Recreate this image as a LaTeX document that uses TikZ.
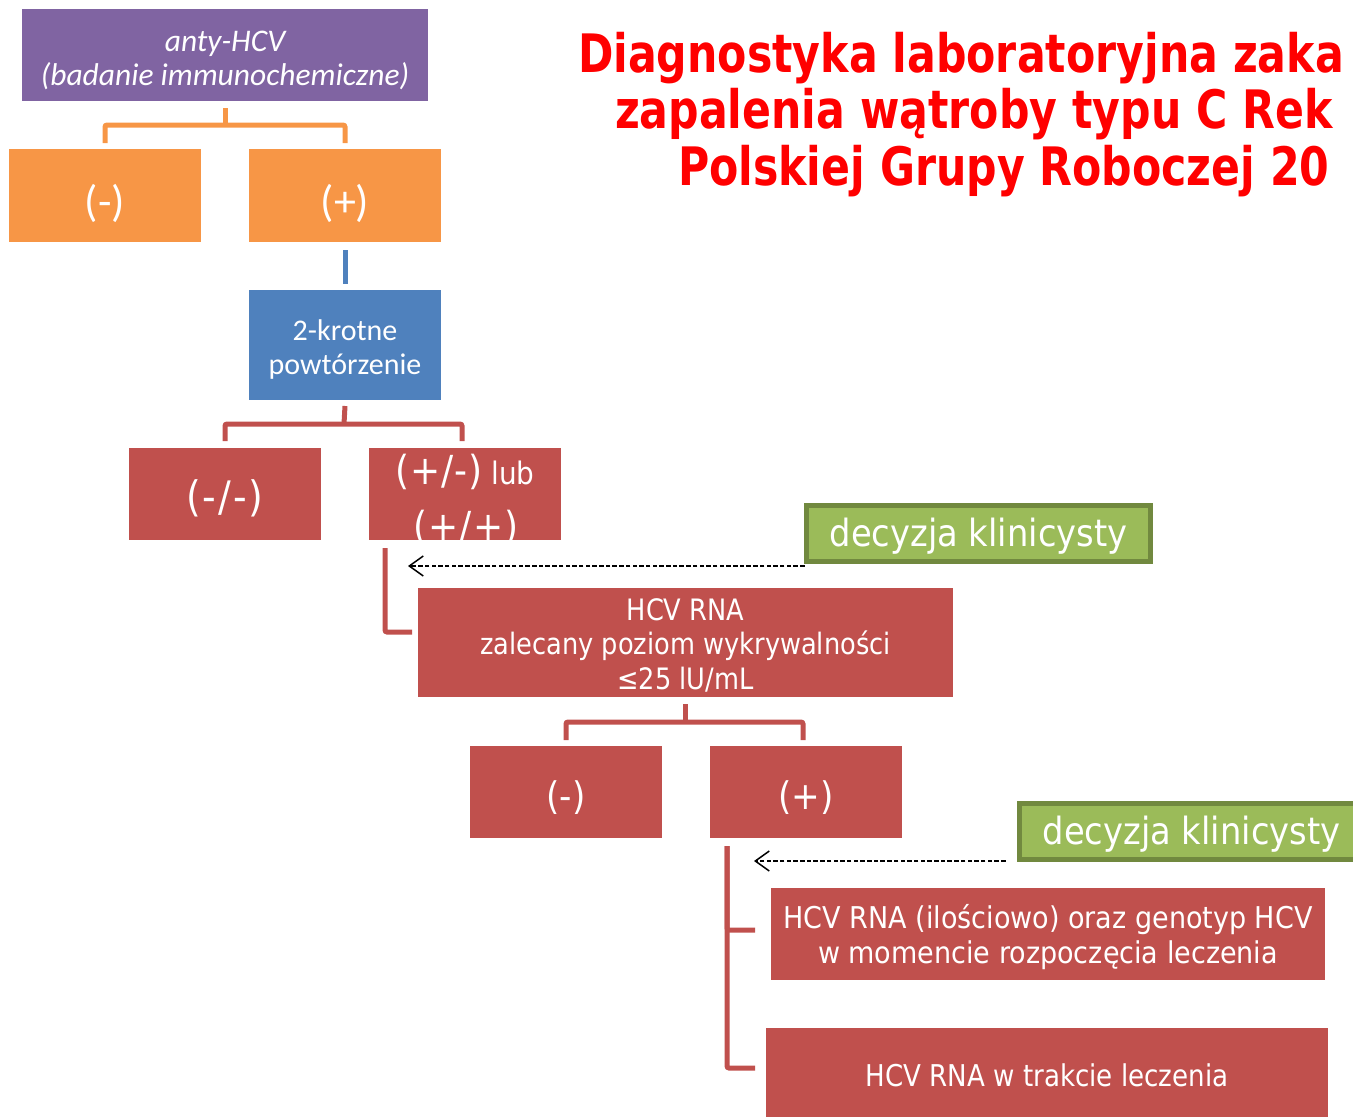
\documentclass[tikz,border=0pt]{standalone}
\usepackage{fontspec}
\setmainfont{Carlito}
\newfontfamily\tah[FakeStretch=0.9]{DejaVu Sans}
\newfontfamily\tahn[FakeStretch=0.87]{DejaVu Sans}
\newfontfamily\tahT[FakeStretch=0.805]{DejaVu Sans}
\usetikzlibrary{arrows.meta,calc}
\definecolor{cpur}{HTML}{8064A2}
\definecolor{cora}{HTML}{F79646}
\definecolor{cblu}{HTML}{4F81BD}
\definecolor{cred}{HTML}{C0504D}
\definecolor{cgrn}{HTML}{9BBB59}
\definecolor{cgrnb}{HTML}{71893F}
\definecolor{ctitle}{HTML}{FF0000}
\begin{document}
\begin{tikzpicture}[x=1pt,y=-1pt,
  box/.style={rectangle, inner sep=0pt, outer sep=0pt},
  pbox/.style={box, fill=cpur},
  obox/.style={box, fill=cora, minimum width=192pt, minimum height=93pt},
  bbox/.style={box, fill=cblu},
  rbox/.style={box, fill=cred},
  gbox/.style={box, fill=cgrn, draw=cgrnb, line width=5pt, minimum width=344pt, minimum height=56pt},
  wt/.style={inner sep=0pt, outer sep=0pt, text=white, align=center},
  conn/.style={line width=5pt, rounded corners=2pt},
  oconn/.style={conn, draw=cora},
  bconn/.style={conn, draw=cblu},
  rconn/.style={conn, draw=cred},
  darrow/.style={draw=black, line width=1.5pt, dash pattern=on 4.5pt off 2.2pt, -{Straight Barb[length=14pt,width=20pt,line width=1.5pt]}},
  ttl/.style={inner sep=0pt, outer sep=0pt, anchor=base west, text=ctitle, font=\tahT\bfseries\fontsize{53}{57}\selectfont}
]
\useasboundingbox (0,0) rectangle (1353,1117);
\clip (0,0) rectangle (1353,1117);

% title
\node[ttl] (t1) at (578,72) {Diagnostyka laboratoryjna zaka};
\node[ttl] (t2) at (615,128) {zapalenia wątroby typu C Rek};
\node[ttl] (t3) at (678,185) {Polskiej Grupy Roboczej 20};

% level 1
\node[pbox, minimum width=406pt, minimum height=92pt] (pur) at (225,55) {};
\node[wt, font=\itshape\fontsize{31.5}{34}\selectfont] (purt) at ([yshift=-5pt]pur.center) {anty-HCV\\(badanie immunochemiczne)};
\node[obox] (om) at (105,195.5) {};
\node[obox] (op) at (345,195.5) {};
\node[wt, font=\fontsize{44}{44}\selectfont] (omt) at ([yshift=-8pt]om.center) {(-)};
\node[wt, font=\fontsize{44}{44}\selectfont] (opt) at ([yshift=-8pt]op.center) {(+)};
\draw[oconn] ([yshift=6pt]om.north) |- (225,125) -| ([yshift=6pt]op.north);
\draw[oconn] (225,125) -- ([yshift=-7pt]pur.south);

% blue
\node[bbox, minimum width=192pt, minimum height=110pt] (blu) at (345,345) {};
\node[wt, font=\fontsize{30}{34}\selectfont] (blut) at ([yshift=-4pt]blu.center) {2-krotne\\powtórzenie};
\draw[bconn] ([yshift=-8pt]op.south) -- ([yshift=6pt]blu.north);

% level 3
\node[rbox, minimum width=192pt, minimum height=92pt] (rmm) at (225,494) {};
\node[wt, font=\tah\fontsize{42}{42}\selectfont] (rmmt) at ([yshift=-4pt]rmm.center) {(\kern2pt-\kern2pt/\kern2pt-\kern2pt)};
\node[rbox, minimum width=192pt, minimum height=92pt] (rpm) at (465,494) {};
\begin{scope}
\clip (rpm.south west) rectangle (rpm.north east);
\node[wt, font=\tah\fontsize{31}{31}\selectfont] (rpmt1) at (465,472) {{\fontsize{40}{40}\selectfont(\kern1pt+\kern1pt/\kern1pt-\kern1pt)}\ lub};
\node[wt, font=\tah\fontsize{40}{40}\selectfont] (rpmt2) at (466,528) {(\kern1pt+\kern1pt/\kern1pt+\kern1pt)};
\end{scope}
\draw[rconn] ([yshift=7pt]rmm.north) |- (344,424) -| ([yshift=7pt,xshift=-3pt]rpm.north);
\draw[rconn] (344,424) -- ([yshift=-6pt]blu.south);

% green 1
\node[gbox] (g1) at (978.5,533.5) {};
\node[wt, font=\tah\fontsize{37.5}{40}\selectfont] (g1t) at ([yshift=-3pt]g1.center) {decyzja klinicysty};

% HCV RNA
\node[rbox, minimum width=535pt, minimum height=109pt] (hcv) at (685.5,642.5) {};
\node[wt, font=\tahn\fontsize{29.5}{34.5}\selectfont] (hcvt) at ([yshift=-2.5pt]hcv.center) {HCV RNA\\zalecany poziom wykrywalności\\≤25 lU/mL};
\draw[rconn] ([xshift=16pt,yshift=-8pt]rpm.south west) |- ([xshift=-6pt,yshift=10.5pt]hcv.west);
\coordinate (a1end) at (408,566);
\draw[darrow] ([xshift=-2pt]g1.west |- a1end) -- (a1end);

% level 5
\node[rbox, minimum width=192pt, minimum height=92pt] (rm) at (566,792) {};
\node[rbox, minimum width=192pt, minimum height=92pt] (rp) at (806,792) {};
\node[wt, font=\tah\fontsize{38}{40}\selectfont] (rmt) at ([yshift=-6pt]rm.center) {(-)};
\node[wt, font=\tah\fontsize{38}{40}\selectfont] (rpt) at ([yshift=-6pt]rp.center) {(+)};
\draw[rconn] ([yshift=6pt]rm.north) |- (685,722) -| ([yshift=6pt,xshift=-3pt]rp.north);
\draw[rconn] (685,722) -- ([yshift=-7pt]hcv.south -| 685,0);

% green 2
\node[gbox] (g2) at (1191.5,831) {};
\node[wt, font=\tah\fontsize{37.5}{40}\selectfont] (g2t) at ([yshift=-3pt]g2.center) {decyzja klinicysty};

% bottom boxes
\node[rbox, minimum width=554pt, minimum height=92pt] (gen) at (1048,934) {};
\node[wt, font=\tah\fontsize{30}{35}\selectfont] (gent) at ([yshift=-3pt]gen.center) {HCV RNA (ilościowo) oraz genotyp HCV\\w momencie rozpoczęcia leczenia};
\node[rbox, minimum width=562pt, minimum height=92pt] (trk) at (1047,1074) {};
\node[wt, font=\tahn\fontsize{30}{35}\selectfont] (trkt) at ([yshift=-1pt]trk.center) {HCV RNA w trakcie leczenia};
\coordinate (vtop) at ([xshift=17pt,yshift=-8pt]rp.south west);
\draw[rconn] (vtop) |- ([xshift=-16pt,yshift=4pt]gen.west);
\draw[rconn] (vtop) |- ([xshift=-11pt,yshift=6pt]trk.west);
\coordinate (a2end) at (754,861);
\draw[darrow] ([xshift=-14pt]g2.west |- a2end) -- (a2end);
\end{tikzpicture}
\end{document}
